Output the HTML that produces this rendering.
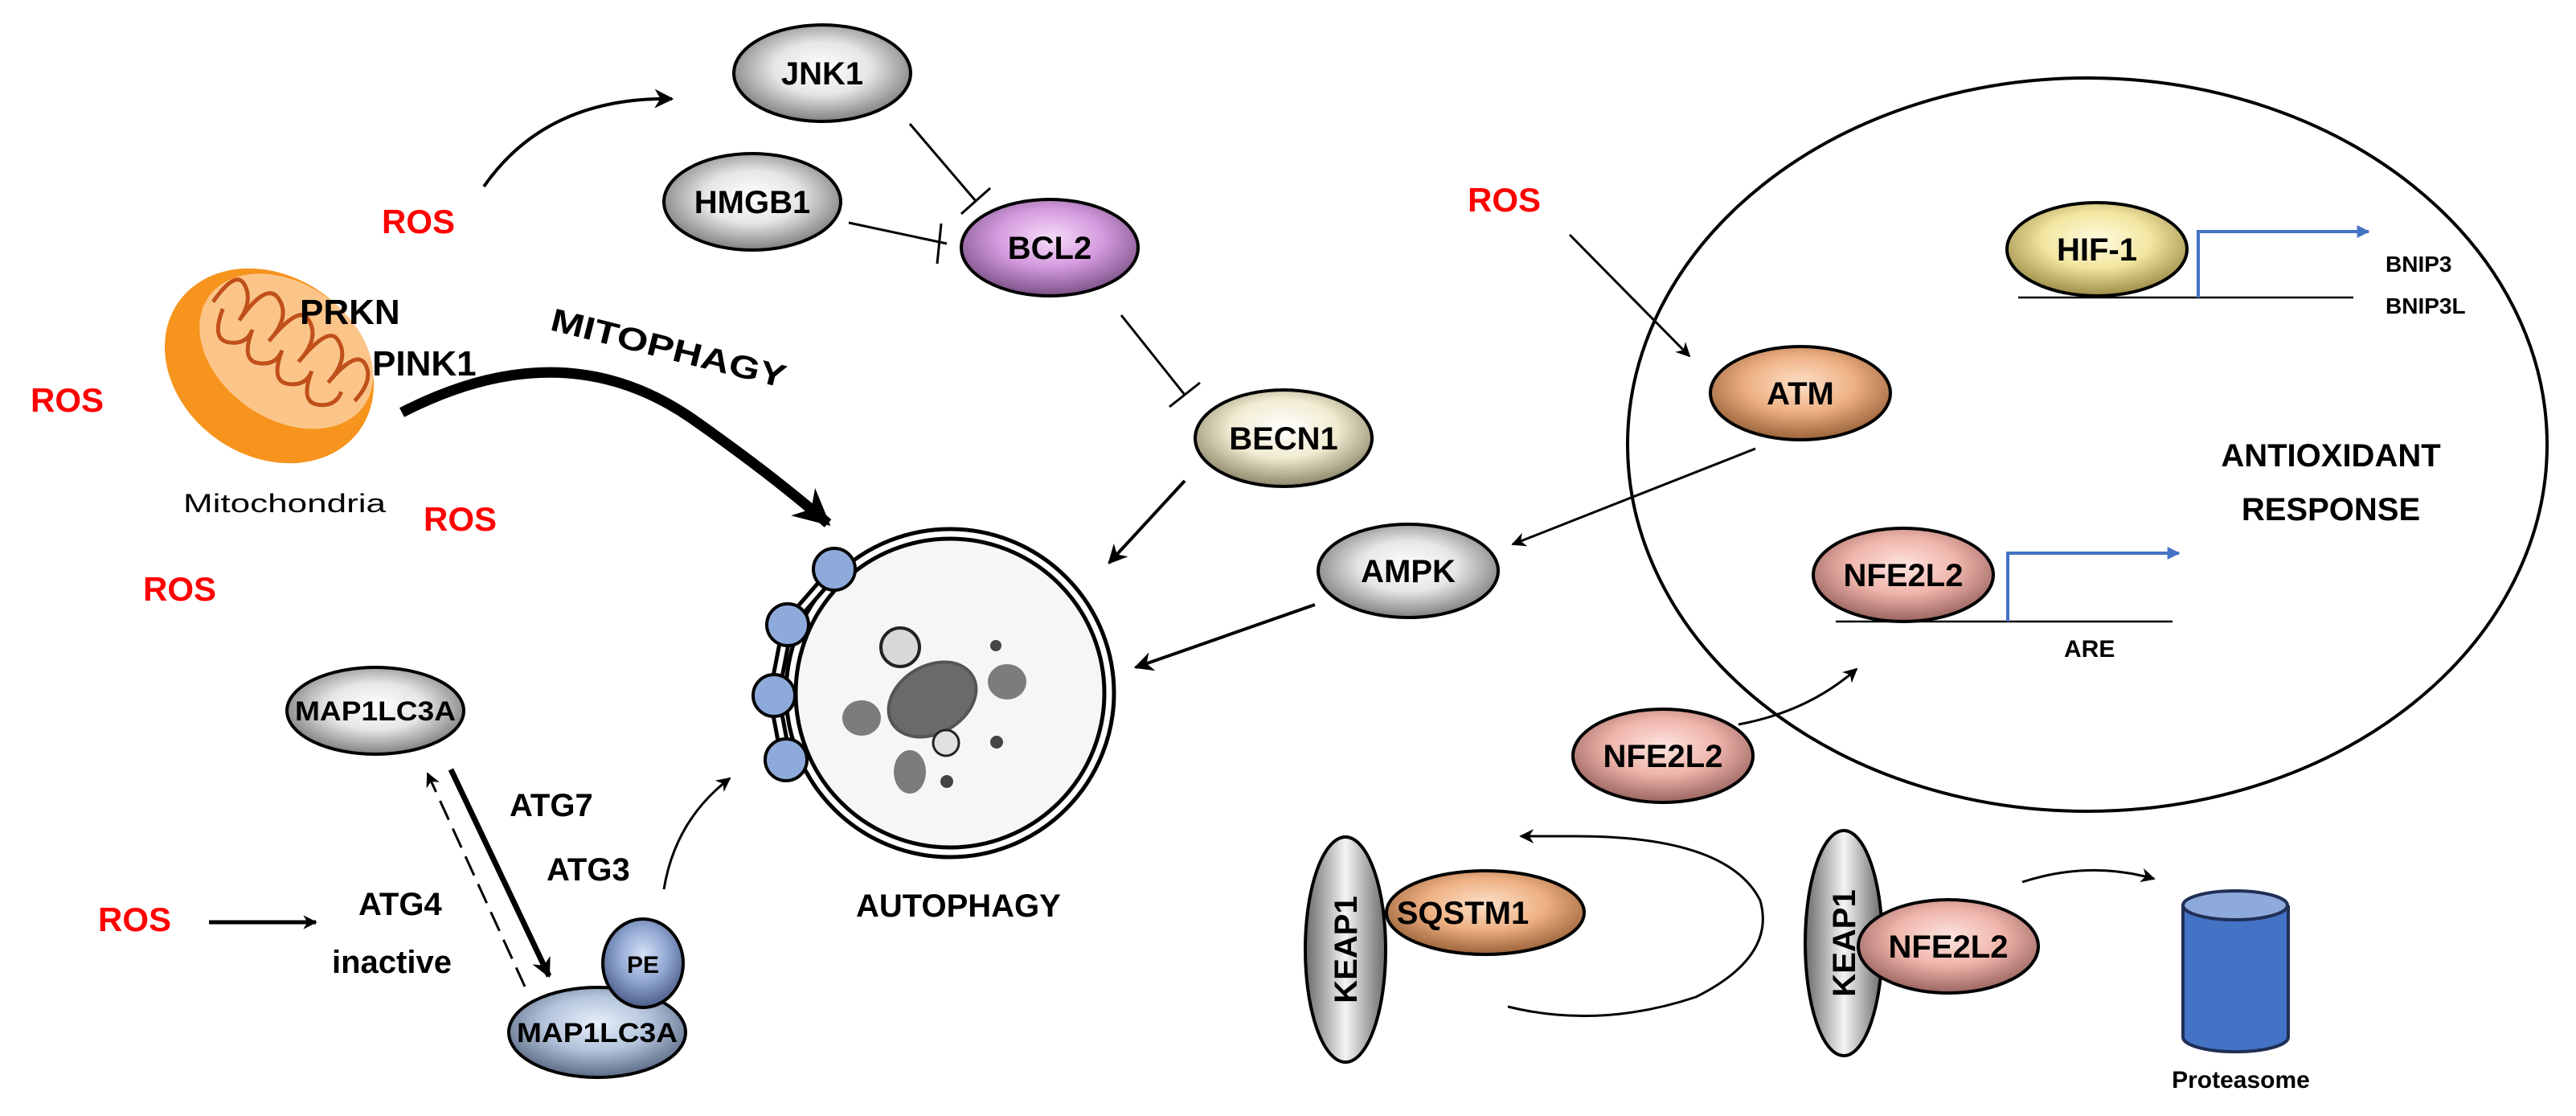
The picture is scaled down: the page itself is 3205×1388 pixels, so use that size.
<!DOCTYPE html>
<html><head><meta charset="utf-8"><style>
html,body{margin:0;padding:0;background:#fff;}
svg{display:block;}
text{font-family:"Liberation Sans",sans-serif;font-weight:bold;}
</style></head><body>
<svg width="3205" height="1388" viewBox="0 0 3205 1388" xmlns="http://www.w3.org/2000/svg">
<defs>
<radialGradient id="gGray" cx="50%" cy="45%" r="60%"><stop offset="0" stop-color="#ffffff"/><stop offset="0.45" stop-color="#e6e6e6"/><stop offset="1" stop-color="#6e6e6e"/></radialGradient>
<radialGradient id="gPurple" cx="50%" cy="40%" r="60%"><stop offset="0" stop-color="#f6dcf8"/><stop offset="0.5" stop-color="#d49ade"/><stop offset="1" stop-color="#7c5288"/></radialGradient>
<radialGradient id="gCream" cx="50%" cy="40%" r="60%"><stop offset="0" stop-color="#ffffff"/><stop offset="0.5" stop-color="#f1ecd2"/><stop offset="1" stop-color="#8d866a"/></radialGradient>
<radialGradient id="gYellow" cx="50%" cy="40%" r="60%"><stop offset="0" stop-color="#fffbe0"/><stop offset="0.5" stop-color="#f2e6a0"/><stop offset="1" stop-color="#9c8c48"/></radialGradient>
<radialGradient id="gOrange" cx="50%" cy="40%" r="60%"><stop offset="0" stop-color="#fde0c8"/><stop offset="0.5" stop-color="#eeb184"/><stop offset="1" stop-color="#9a6238"/></radialGradient>
<radialGradient id="gPink" cx="50%" cy="40%" r="60%"><stop offset="0" stop-color="#fde4e0"/><stop offset="0.5" stop-color="#efb5ab"/><stop offset="1" stop-color="#9a6460"/></radialGradient>
<radialGradient id="gBlue" cx="50%" cy="40%" r="60%"><stop offset="0" stop-color="#e8f0fa"/><stop offset="0.5" stop-color="#b4c4dc"/><stop offset="1" stop-color="#5a6a84"/></radialGradient>
<radialGradient id="gPE" cx="50%" cy="40%" r="60%"><stop offset="0" stop-color="#d6e2f6"/><stop offset="0.5" stop-color="#93a8d4"/><stop offset="1" stop-color="#4c5e8a"/></radialGradient>
<linearGradient id="gKeap" x1="0" x2="1" y1="0" y2="0"><stop offset="0" stop-color="#6a6a6a"/><stop offset="0.5" stop-color="#f4f4f4"/><stop offset="1" stop-color="#6a6a6a"/></linearGradient>
<marker id="ah" viewBox="0 0 10 10" refX="9" refY="5" markerWidth="6" markerHeight="6" orient="auto" markerUnits="strokeWidth"><path d="M0,0 L10,5 L0,10 L3,5 z" fill="#000"/></marker>
<marker id="ahs" viewBox="0 0 10 10" refX="9" refY="5" markerWidth="3.5" markerHeight="3.5" orient="auto" markerUnits="strokeWidth"><path d="M0,0 L10,5 L0,10 L3,5 z" fill="#000"/></marker>
<marker id="ahb" viewBox="0 0 10 10" refX="9" refY="5" markerWidth="4" markerHeight="4" orient="auto" markerUnits="strokeWidth"><path d="M0,0 L10,5 L0,10 z" fill="#4472c4"/></marker>
</defs>

<!-- Big nucleus circle -->
<ellipse cx="2597" cy="553" rx="572" ry="456" fill="none" stroke="#000" stroke-width="4"/>

<!-- Mitochondria -->
<g transform="rotate(35 335 455)">
<ellipse cx="335" cy="455" rx="138" ry="112" fill="#f7941d"/>
<ellipse cx="342" cy="428" rx="118" ry="84" fill="#fbc58a"/>
<path d="M232,430 q0,-50 20,-40 q20,10 20,40 q0,-60 25,-50 q25,10 20,50 q5,-60 25,-50 q25,10 20,50 q5,-60 25,-50 q25,10 20,50 q5,-55 25,-45 q20,10 15,45" fill="none" stroke="#c0501a" stroke-width="5"/>
<path d="M247,430 q10,40 30,30 q20,-10 15,-30 q10,40 30,30 q20,-10 15,-30 q10,40 30,30 q20,-10 15,-30 q10,40 30,30 q20,-10 15,-30" fill="none" stroke="#c0501a" stroke-width="5"/>
</g>
<text x="373" y="403" font-size="44">PRKN</text>
<text x="463" y="467" font-size="44">PINK1</text>
<text x="228" y="637" font-size="32" textLength="252" lengthAdjust="spacingAndGlyphs" style="font-weight:normal">Mitochondria</text>

<!-- ROS labels -->
<g fill="#ff0000" font-size="42">
<text x="475" y="290">ROS</text>
<text x="38" y="512">ROS</text>
<text x="527" y="660">ROS</text>
<text x="178" y="747">ROS</text>
<text x="122" y="1158">ROS</text>
<text x="1826" y="263">ROS</text>
</g>

<!-- ROS -> JNK1 -->
<path d="M602,232 Q680,120 836,123" fill="none" stroke="#000" stroke-width="4" marker-end="url(#ah)"/>
<line x1="1132" y1="154" x2="1214" y2="250" stroke="#000" stroke-width="3"/>
<line x1="1196" y1="266" x2="1232" y2="234" stroke="#000" stroke-width="3"/>
<line x1="1056" y1="277" x2="1178" y2="303" stroke="#000" stroke-width="3"/>
<line x1="1171" y1="278" x2="1166" y2="328" stroke="#000" stroke-width="3"/>
<line x1="1395" y1="392" x2="1474" y2="491" stroke="#000" stroke-width="3"/>
<line x1="1455" y1="506" x2="1493" y2="476" stroke="#000" stroke-width="3"/>
<line x1="1474" y1="598" x2="1380" y2="700" stroke="#000" stroke-width="4" marker-end="url(#ah)"/>

<!-- Mitophagy thick arrow -->
<path d="M500,513 Q700,410 860,520 Q960,590 1030,651" fill="none" stroke="#000" stroke-width="13" marker-end="url(#ahs)"/>
<text x="683" y="410" font-size="40" transform="rotate(14 683 410)" textLength="300" lengthAdjust="spacingAndGlyphs">MITOPHAGY</text>

<!-- Autophagosome -->
<circle cx="1182" cy="862" r="204" fill="#fff" stroke="#000" stroke-width="5"/>
<circle cx="1182" cy="862" r="192" fill="#f6f6f6" stroke="#000" stroke-width="5"/>
<path d="M1040,708 L980,777 L963,865 L978,945" fill="none" stroke="#000" stroke-width="16"/>
<path d="M1040,708 L980,777 L963,865 L978,945" fill="none" stroke="#fff" stroke-width="6"/>
<g fill="#8eaadb" stroke="#000" stroke-width="4">
<circle cx="1038" cy="708" r="26"/><circle cx="980" cy="777" r="26"/><circle cx="963" cy="865" r="26"/><circle cx="978" cy="945" r="26"/>
</g>
<g>
<circle cx="1120" cy="805" r="24" fill="#d8d8d8" stroke="#222" stroke-width="4"/>
<ellipse cx="1160" cy="870" rx="58" ry="42" transform="rotate(-30 1160 870)" fill="#6a6a6a" stroke="#555" stroke-width="4"/>
<ellipse cx="1072" cy="893" rx="24" ry="22" fill="#7c7c7c"/>
<ellipse cx="1253" cy="848" rx="24" ry="22" fill="#7c7c7c"/>
<ellipse cx="1132" cy="960" rx="20" ry="27" fill="#7c7c7c"/>
<circle cx="1177" cy="924" r="16" fill="#e0e0e0" stroke="#222" stroke-width="3"/>
<circle cx="1239" cy="803" r="7" fill="#444"/>
<circle cx="1240" cy="923" r="8" fill="#444"/>
<circle cx="1178" cy="972" r="8" fill="#444"/>
</g>
<text x="1065" y="1140" font-size="40">AUTOPHAGY</text>

<!-- MAP1LC3A section -->
<line x1="561" y1="957" x2="683" y2="1214" stroke="#000" stroke-width="7" marker-end="url(#ahs)"/>
<line x1="653" y1="1227" x2="532" y2="962" stroke="#000" stroke-width="3" stroke-dasharray="26,12" marker-end="url(#ah)"/>
<text x="634" y="1015" font-size="40">ATG7</text>
<text x="680" y="1095" font-size="40">ATG3</text>
<text x="446" y="1138" font-size="40">ATG4</text>
<text x="413" y="1210" font-size="40">inactive</text>
<line x1="260" y1="1147" x2="393" y2="1147" stroke="#000" stroke-width="5" marker-end="url(#ahs)"/>
<path d="M826,1106 Q840,1020 908,968" fill="none" stroke="#000" stroke-width="3" marker-end="url(#ah)"/>

<!-- Right side arrows -->
<line x1="1953" y1="292" x2="2102" y2="443" stroke="#000" stroke-width="3" marker-end="url(#ah)"/>
<line x1="2184" y1="558" x2="1882" y2="677" stroke="#000" stroke-width="3" marker-end="url(#ah)"/>
<line x1="1636" y1="752" x2="1413" y2="830" stroke="#000" stroke-width="4" marker-end="url(#ah)"/>
<path d="M2163,901 Q2250,885 2310,832" fill="none" stroke="#000" stroke-width="3" marker-end="url(#ah)"/>
<path d="M1876,1252 Q1990,1280 2110,1240 Q2210,1190 2190,1120 Q2150,1040 1960,1040 L1892,1040" fill="none" stroke="#000" stroke-width="3" marker-end="url(#ah)"/>
<path d="M2516,1097 Q2600,1070 2680,1093" fill="none" stroke="#000" stroke-width="3" marker-end="url(#ah)"/>

<!-- gene lines -->
<line x1="2511" y1="370" x2="2928" y2="370" stroke="#000" stroke-width="2.5"/>
<path d="M2735,370 L2735,288 L2947,288" fill="none" stroke="#4472c4" stroke-width="4" marker-end="url(#ahb)"/>
<text x="2968" y="338" font-size="28">BNIP3</text>
<text x="2968" y="390" font-size="28">BNIP3L</text>
<line x1="2284" y1="773" x2="2703" y2="773" stroke="#000" stroke-width="2.5"/>
<path d="M2498,773 L2498,688 L2711,688" fill="none" stroke="#4472c4" stroke-width="4" marker-end="url(#ahb)"/>
<text x="2568" y="817" font-size="30">ARE</text>
<text x="2900" y="580" font-size="40" text-anchor="middle">ANTIOXIDANT</text>
<text x="2900" y="647" font-size="40" text-anchor="middle">RESPONSE</text>

<!-- Proteasome -->
<path d="M2716,1126 L2716,1290 A65,18 0 0 0 2847,1290 L2847,1126" fill="#4472c4" stroke="#1f2f55" stroke-width="4"/>
<ellipse cx="2781" cy="1126" rx="65" ry="18" fill="#8eaadb" stroke="#1f2f55" stroke-width="4"/>
<text x="2788" y="1353" font-size="30" text-anchor="middle">Proteasome</text>

<!-- Nodes -->
<g stroke="#000" stroke-width="4">
<ellipse cx="1023" cy="91" rx="110" ry="60" fill="url(#gGray)"/>
<ellipse cx="936" cy="251" rx="110" ry="60" fill="url(#gGray)"/>
<ellipse cx="1306" cy="308" rx="110" ry="60" fill="url(#gPurple)"/>
<ellipse cx="1597" cy="545" rx="110" ry="60" fill="url(#gCream)"/>
<ellipse cx="467" cy="884" rx="110" ry="54" fill="url(#gGray)"/>
<ellipse cx="743" cy="1284" rx="110" ry="56" fill="url(#gBlue)"/>
<ellipse cx="800" cy="1198" rx="50" ry="55" fill="url(#gPE)"/>
<ellipse cx="1752" cy="710" rx="112" ry="58" fill="url(#gGray)"/>
<ellipse cx="2240" cy="489" rx="112" ry="58" fill="url(#gOrange)"/>
<ellipse cx="2609" cy="310" rx="112" ry="58" fill="url(#gYellow)"/>
<ellipse cx="2368" cy="715" rx="112" ry="58" fill="url(#gPink)"/>
<ellipse cx="2069" cy="940" rx="112" ry="58" fill="url(#gPink)"/>
<ellipse cx="1848" cy="1135" rx="123" ry="52" fill="url(#gOrange)"/>
<ellipse cx="1674" cy="1181" rx="50" ry="140" fill="url(#gKeap)"/>
<ellipse cx="2294" cy="1173" rx="48" ry="140" fill="url(#gKeap)"/>
<ellipse cx="2424" cy="1177" rx="112" ry="58" fill="url(#gPink)"/>
</g>
<g font-size="40" text-anchor="middle">
<text x="1023" y="105">JNK1</text>
<text x="936" y="265">HMGB1</text>
<text x="1306" y="322">BCL2</text>
<text x="1597" y="559">BECN1</text>
<text x="467" y="896" font-size="34" textLength="200" lengthAdjust="spacingAndGlyphs">MAP1LC3A</text>
<text x="743" y="1296" font-size="34" textLength="200" lengthAdjust="spacingAndGlyphs">MAP1LC3A</text>
<text x="800" y="1210" font-size="30">PE</text>
<text x="1752" y="724">AMPK</text>
<text x="2240" y="503">ATM</text>
<text x="2609" y="324">HIF-1</text>
<text x="2368" y="729">NFE2L2</text>
<text x="2069" y="954">NFE2L2</text>
<text x="1820" y="1149">SQSTM1</text>
<text x="2424" y="1191">NFE2L2</text>
<text transform="translate(1688 1181) rotate(-90)">KEAP1</text>
<text transform="translate(2308 1173) rotate(-90)">KEAP1</text>
</g>
</svg>
</body></html>
